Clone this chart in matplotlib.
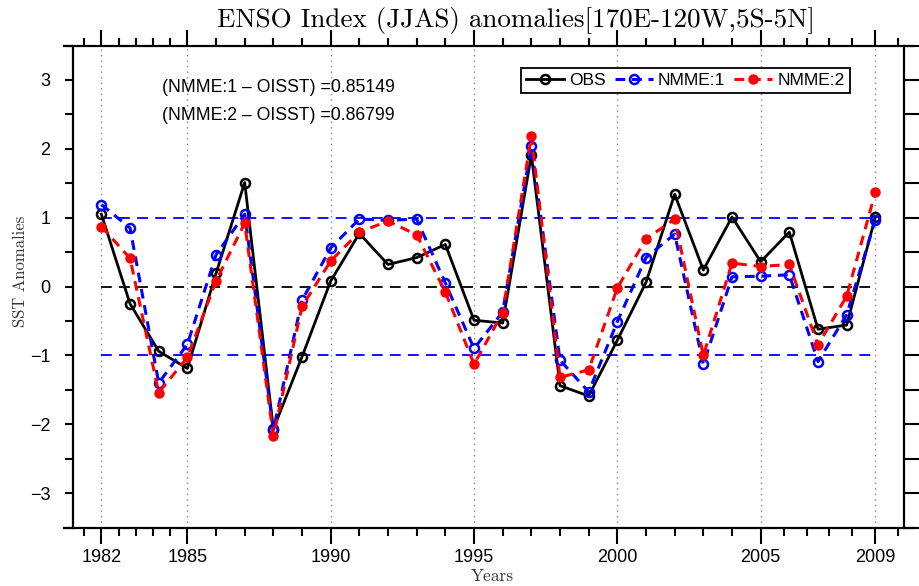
import matplotlib
matplotlib.use("Agg")
import matplotlib.pyplot as plt
from matplotlib.lines import Line2D

years = list(range(1982, 2010))
obs = [1.05, -0.25, -0.94, -1.19, 0.19, 1.51, -2.07, -1.02, 0.08, 0.77,
       0.32, 0.42, 0.61, -0.49, -0.53, 1.91, -1.44, -1.59, -0.78, 0.06,
       1.34, 0.24, 1.01, 0.36, 0.79, -0.62, -0.56, 1.01]
nmme1 = [1.19, 0.85, -1.40, -0.84, 0.46, 1.05, -2.08, -0.20, 0.56, 0.98,
         0.96, 0.98, 0.05, -0.90, -0.37, 2.04, -1.07, -1.53, -0.51, 0.42,
         0.76, -1.13, 0.14, 0.15, 0.17, -1.09, -0.41, 0.97]
nmme2 = [0.87, 0.41, -1.54, -1.03, 0.08, 0.92, -2.17, -0.29, 0.37, 0.79,
         0.95, 0.75, -0.08, -1.13, -0.38, 2.18, -1.32, -1.21, -0.02, 0.69,
         0.98, -1.00, 0.34, 0.29, 0.32, -0.85, -0.14, 1.37]
major_years = [1982, 1985, 1990, 1995, 2000, 2005, 2009]
minor_years = [1981.4, 1982.6, 1983.2, 1983.8, 1984.4, 1986, 1987, 1988, 1989,
               1991, 1992, 1993, 1994, 1996, 1997, 1998, 1999,
               2001, 2002, 2003, 2004, 2005.8, 2006.6, 2007.4, 2008.2, 2009.8]
corr_labels = ["(NMME:1 \u2013 OISST) =0.85149", "(NMME:2 \u2013 OISST) =0.86799"]
series_names = ["OBS", "NMME:1", "NMME:2"]

W, H = 920, 586
fig = plt.figure(figsize=(9.2, 5.86), dpi=100)
L, R, T, B = 72.7, 904, 45.5, 527.5
ax = fig.add_axes([L / W, 1 - B / H, (R - L) / W, (B - T) / H])
ax.set_xlim(1981, 2010)
ax.set_ylim(-3.5, 3.5)

sans = "Liberation Sans"
serif = "cmr10"

# grid & reference lines
ax.vlines(major_years, -3.5, 3.5, colors="#888888", linestyles=(0, (1, 3)), lw=1.0, zorder=1)
ax.hlines(0, 1982, 2009, colors="black", linestyles=(0, (6, 4)), lw=1.3, zorder=1)
ax.hlines([1, -1], 1982, 2009, colors="blue", linestyles=(0, (6, 4)), lw=1.3, zorder=1)

ax.plot(years, obs, color="black", lw=2.0, marker="o", ms=6.5, mfc="none",
        mec="black", mew=1.8, label=series_names[0], zorder=3)
ax.plot(years, nmme1, color="blue", lw=2.2, ls=(0, (3.2, 2.2)), marker="o", ms=6.5,
        mfc="none", mec="blue", mew=1.8, label=series_names[1], zorder=4)
ax.plot(years, nmme2, color="red", lw=2.2, ls=(0, (3.2, 2.2)), marker="o", ms=6.5,
        mfc="red", mec="red", mew=1.0, label=series_names[2], zorder=5)

# spines
for s in ["top", "bottom"]:
    ax.spines[s].set_visible(False)
for s in ["left", "right"]:
    ax.spines[s].set_linewidth(1.6)
for yy in (0, 1):
    ax.add_line(Line2D([-0.0105, 1.0108], [yy, yy], transform=ax.transAxes,
                       color="black", lw=1.6, clip_on=False, zorder=6))

ax.set_xticks(major_years)
ax.set_xticks(minor_years, minor=True)
ax.set_xticklabels([str(y) for y in major_years], fontsize=13, family=sans)
ax.set_yticks([-3, -2, -1, 0, 1, 2, 3])
ax.set_yticks([-3.5, -2.5, -1.5, -0.5, 0.5, 1.5, 2.5, 3.5], minor=True)
ax.set_yticklabels(["\u22123", "\u22122", "\u22121", "0", "1", "2", "3"], fontsize=13, family=sans)

ax.tick_params(axis="x", which="major", direction="out", length=11.5, width=1.5,
               top=True, bottom=True, labeltop=False, pad=4)
ax.tick_params(axis="x", which="minor", direction="out", length=5.8, width=1.5,
               top=True, bottom=True)
ax.tick_params(axis="y", which="both", direction="out", left=True, right=False,
               length=6, width=1.5, pad=10)

# right side ticks via secondary axis
ax2 = ax.twinx()
ax2.set_ylim(-3.5, 3.5)
ax2.set_yticks([-3, -2, -1, 0, 1, 2, 3])
ax2.set_yticks([-3.5, -2.5, -1.5, -0.5, 0.5, 1.5, 2.5, 3.5], minor=True)
ax2.tick_params(axis="y", which="both", direction="out", length=12, width=1.5,
                labelright=False)
for s in ax2.spines.values():
    s.set_visible(False)

fig.text(516 / W, 1 - 21 / H, "ENSO Index (JJAS) anomalies[170E-120W,5S-5N]",
         ha="center", va="center", fontsize=19.5, family=serif)
fig.text(20 / W, 1 - 271 / H, "SST Anomalies", rotation=90, ha="center", va="center",
         fontsize=12, family=serif, color="#333333")
fig.text(492 / W, 1 - 576 / H, "Years", ha="center", va="center", fontsize=12.5,
         family=serif, color="#333333")

fig.text(161.7 / W, 1 - 88 / H, corr_labels[0], ha="left", va="center", fontsize=12.7, family=sans)
fig.text(161.7 / W, 1 - 115 / H, corr_labels[1], ha="left", va="center", fontsize=12.7, family=sans)

leg = ax.legend(loc="upper left", bbox_to_anchor=(520.7 / W, 1 - 67.7 / H),
                bbox_transform=fig.transFigure, ncol=3, borderaxespad=0,
                prop={"family": sans, "size": 12.5}, handlelength=2.2,
                handletextpad=0.3, columnspacing=0.5, borderpad=0.3,
                fancybox=False, framealpha=1, edgecolor="black")
leg.get_frame().set_linewidth(1.3)
leg.set_zorder(10)

fig.savefig("out.png", dpi=100)
